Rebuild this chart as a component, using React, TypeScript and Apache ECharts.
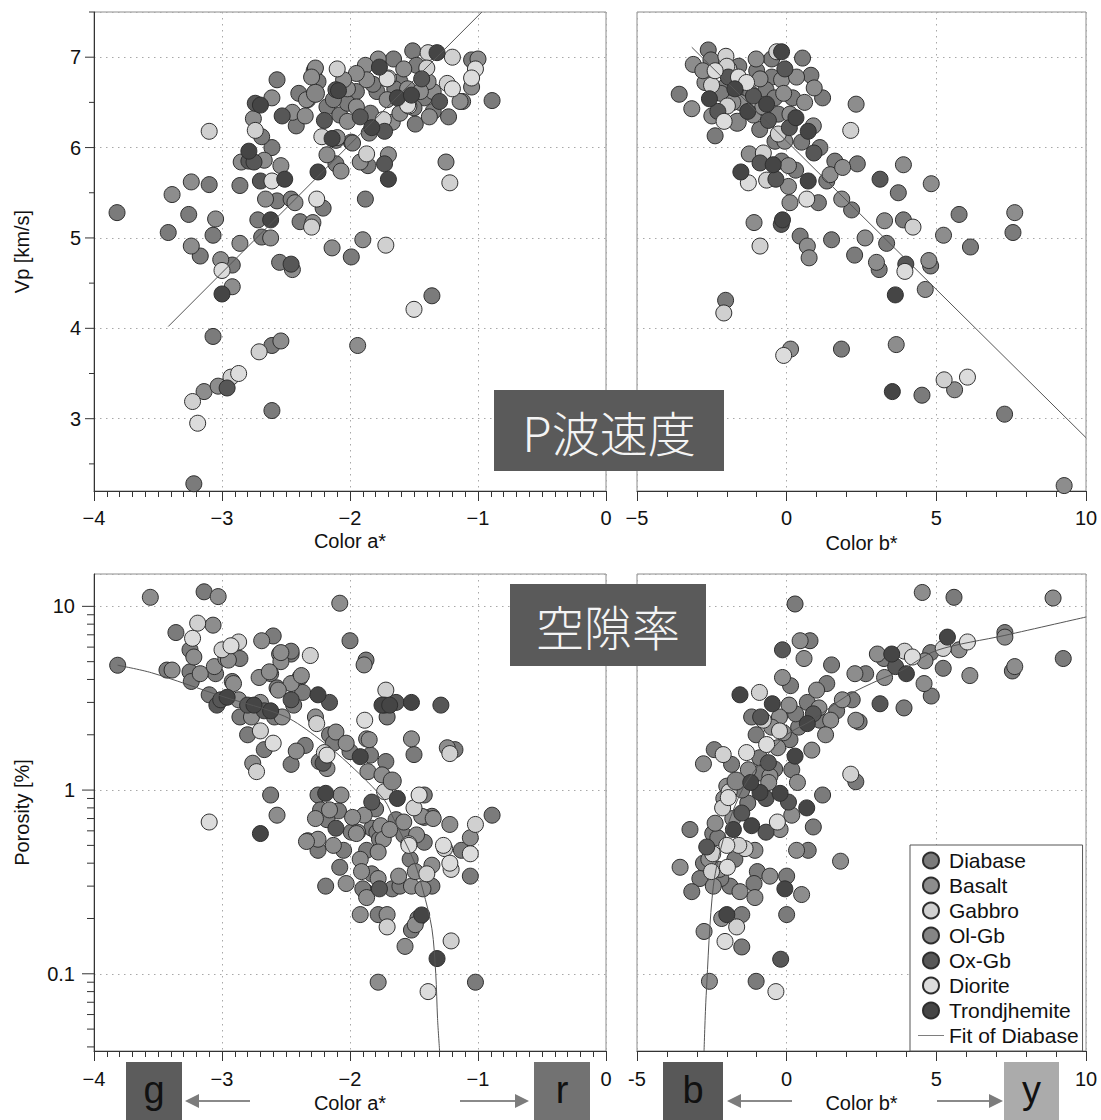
import React, { useEffect, useRef } from 'react';
import * as echarts from 'echarts';

const FONT = '"Liberation Sans", Arial, Helvetica, sans-serif';
const CJK = '"Noto Sans CJK JP", "Noto Sans CJK SC", sans-serif';

const TYPES = ['Diabase', 'Basalt', 'Gabbro', 'Ol-Gb', 'Ox-Gb', 'Diorite', 'Trondjhemite'];
const TYPE_CODES = ['Di', 'Ba', 'Ga', 'Ol', 'Ox', 'Dr', 'Tr'];
const TYPE_COLORS = ['#7b7b7b', '#8d8d8d', '#d0d0d0', '#858585', '#575757', '#dcdcdc', '#454545'];
const TYPE_SIZES = [16, 16, 16, 18, 16, 16, 16];

// Vp vs Color a*
const vpA: [number, number, string][] = [
  [-3.82,5.28,'Di'],[-3.39,5.48,'Ba'],[-3.42,5.06,'Di'],[-3.24,5.62,'Ba'],[-3.26,5.26,'Di'],[-3.24,4.91,'Ba'],
  [-3.17,4.80,'Di'],[-3.10,5.59,'Di'],[-3.05,5.21,'Ba'],[-3.07,5.03,'Di'],[-3.10,6.18,'Ga'],[-3.01,4.76,'Ba'],
  [-3.00,4.64,'Dr'],[-2.92,4.70,'Di'],[-2.92,4.46,'Ba'],[-3.00,4.38,'Tr'],[-3.07,3.91,'Di'],[-3.23,3.19,'Ga'],
  [-3.14,3.30,'Ba'],[-3.19,2.95,'Dr'],[-3.22,2.28,'Di'],[-3.03,3.36,'Ba'],[-2.96,3.34,'Ox'],[-2.93,3.46,'Ga'],
  [-2.87,3.50,'Dr'],[-2.71,3.74,'Ga'],[-2.61,3.81,'Di'],[-2.54,3.86,'Ba'],[-2.61,3.09,'Di'],[-2.86,4.94,'Ba'],
  [-2.86,5.58,'Di'],[-2.85,5.84,'Ba'],[-2.79,5.85,'Ox'],[-2.79,5.96,'Tr'],[-2.75,5.84,'Ox'],[-2.69,5.01,'Di'],
  [-2.62,5.00,'Ba'],[-2.72,5.20,'Di'],[-2.62,5.20,'Tr'],[-2.66,5.43,'Ba'],[-2.57,5.41,'Di'],[-2.70,5.63,'Ox'],
  [-2.61,5.63,'Dr'],[-2.51,5.65,'Tr'],[-2.67,5.86,'Ba'],[-2.61,6.00,'Di'],[-2.54,5.80,'Ba'],[-2.55,4.73,'Di'],
  [-2.46,4.71,'Ox'],[-2.45,4.65,'Ba'],[-2.46,5.43,'Di'],[-2.43,5.39,'Ba'],[-2.39,5.18,'Di'],[-2.29,5.17,'Ba'],
  [-2.30,5.12,'Ga'],[-2.26,5.43,'Dr'],[-2.21,5.33,'Di'],[-2.25,5.73,'Tr'],[-2.755,6.32,'Ba'],[-2.74,6.19,'Ga'],
  [-2.69,6.12,'Di'],[-2.74,6.49,'Ox'],[-2.70,6.47,'Tr'],[-2.61,6.55,'Ba'],[-2.57,6.75,'Di'],[-2.53,6.35,'Ox'],
  [-2.45,6.39,'Ba'],[-2.42,6.24,'Di'],[-2.35,6.35,'Ba'],[-2.33,6.53,'Di'],[-2.14,4.89,'Ba'],[-1.99,4.79,'Di'],
  [-1.90,4.98,'Ba'],[-1.72,4.92,'Ga'],[-1.88,5.43,'Di'],[-1.94,3.81,'Ba'],[-1.50,4.21,'Dr'],[-1.36,4.36,'Di'],
  [-1.25,5.84,'Ba'],[-1.22,5.61,'Ga'],[-1.23,6.34,'Di'],[-1.14,6.51,'Ba'],[-0.89,6.52,'Di'],[-1.05,6.67,'Ba'],
  [-1.02,6.87,'Dr'],[-1.05,6.97,'Di'],[-1.00,6.98,'Ba'],[-1.20,7.00,'Ga'],[-1.20,6.65,'Dr'],[-1.24,6.71,'Ga'],
  [-1.05,6.77,'Dr'],[-1.32,7.05,'Tr'],[-1.39,7.05,'Ga'],[-1.51,7.07,'Di'],[-1.30,6.51,'Ox'],[-1.38,6.34,'Ba'],
  [-1.49,6.26,'Di'],[-1.54,6.46,'Dr'],[-2.10,6.87,'Ga'],[-2.27,6.88,'Ba'],[-2.09,6.63,'Tr'],[-2.22,6.12,'Ga'],
  [-2.20,6.30,'Ox'],[-2.14,6.10,'Tr'],[-2.11,6.08,'Di'],[-2.18,5.92,'Ba'],[-2.11,5.82,'Di'],[-2.07,5.74,'Ba'],
  [-1.99,6.06,'Di'],[-1.92,5.84,'Ba'],[-1.87,5.93,'Ga'],[-1.86,5.80,'Di'],[-1.73,5.82,'Ox'],[-1.70,5.92,'Ba'],
  [-1.70,5.65,'Tr'],[-1.92,6.34,'Ox'],[-1.83,6.22,'Tr'],[-1.73,6.18,'Ox'],[-1.77,6.89,'Tr'],[-1.70,6.77,'Ga'],
  [-1.61,6.73,'Di'],[-1.71,6.76,'Dr'],[-1.78,6.98,'Ba'],[-1.66,6.98,'Di'],[-1.88,6.91,'Ba'],[-2.28,6.85,'Di'],
  [-2.30,6.78,'Ba'],[-2.25,6.73,'Di'],[-2.02,6.65,'Ba'],[-1.95,6.62,'Di'],[-1.87,6.75,'Ba'],[-1.79,6.62,'Di'],
  [-1.71,6.53,'Ba'],[-1.63,6.55,'Tr'],[-1.42,6.55,'Di'],[-1.35,6.62,'Ba'],[-2.18,6.45,'Di'],[-2.34,6.53,'Ba'],
  [-2.27,6.60,'Ol'],[-2.08,6.36,'Di'],[-2.02,6.29,'Ba'],[-1.84,6.38,'Di'],[-1.74,6.31,'Ga'],[-1.67,6.28,'Ba'],
  [-1.85,6.16,'Di'],[-2.10,6.11,'Ba'],[-1.98,6.05,'Di'],[-2.02,6.49,'Di'],[-1.95,6.45,'Ba'],[-2.13,6.53,'Di'],
  [-1.61,6.38,'Ba'],[-1.50,6.44,'Di'],[-1.58,6.87,'Ba'],[-1.48,6.91,'Di'],[-1.95,6.82,'Ba'],[-1.35,6.40,'Di'],
  [-1.39,6.73,'Ba'],[-1.44,6.76,'Ox'],[-1.40,6.88,'Ga'],[-1.52,6.58,'Tr'],[-1.55,6.47,'Dr'],[-1.12,6.51,'Di'],
  [-2.11,6.64,'Ox'],[-1.65,6.65,'Di'],[-1.55,6.65,'Ba'],[-1.82,6.70,'Di'],[-2.05,6.75,'Ba'],[-2.40,6.60,'Di'],
  [-1.45,6.62,'Ba'],
];

// Vp vs Color b*
const vpB: [number, number, string][] = [
  [-2.62,7.08,'Di'],[-3.12,6.92,'Ba'],[-2.53,6.97,'Di'],[-2.03,7.01,'Ga'],[-2.39,6.85,'Dr'],[-1.93,6.87,'Ga'],
  [-1.61,6.78,'Dr'],[-1.95,6.78,'Ox'],[-2.73,6.72,'Ba'],[-2.51,6.69,'Ga'],[-2.06,6.67,'Di'],[-1.73,6.65,'Tr'],
  [-1.34,6.72,'Dr'],[-1.02,6.98,'Ba'],[-1.00,6.85,'Di'],[-0.89,6.76,'Ba'],[-0.50,6.98,'Di'],[-0.33,7.06,'Ga'],
  [-0.17,7.06,'Tr'],[-0.06,6.87,'Ox'],[0.53,6.99,'Di'],[-0.17,6.75,'Ba'],[-0.50,6.78,'Di'],[0.33,6.78,'Ba'],
  [0.81,6.80,'Di'],[0.92,6.66,'Ba'],[1.20,6.55,'Di'],[2.32,6.48,'Ba'],[2.14,6.19,'Ga'],[-3.59,6.59,'Di'],
  [-3.17,6.43,'Ba'],[-2.58,6.54,'Tr'],[-2.39,6.13,'Di'],[-1.98,6.46,'Ga'],[-1.65,6.28,'Ol'],[-2.09,6.29,'Dr'],
  [-1.56,6.50,'Ba'],[-1.11,6.57,'Ox'],[-0.67,6.48,'Tr'],[-0.69,6.64,'Di'],[-1.11,6.36,'Ba'],[-0.61,6.30,'Ox'],
  [-0.28,6.37,'Di'],[0.11,6.37,'Ba'],[0.31,6.33,'Tr'],[0.09,6.22,'Ox'],[-0.28,6.15,'Ga'],[-0.39,6.07,'Di'],
  [-0.06,6.07,'Ba'],[0.50,6.06,'Di'],[0.72,6.18,'Tr'],[0.89,6.24,'Ba'],[0.91,5.94,'Ox'],[1.11,6.00,'Di'],
  [-1.25,5.93,'Ba'],[-0.78,5.94,'Ga'],[-0.89,5.83,'Ox'],[-0.45,5.81,'Tr'],[-0.17,5.85,'Di'],[0.06,5.80,'Ba'],
  [0.30,5.75,'Di'],[-1.53,5.73,'Tr'],[-1.28,5.61,'Dr'],[-0.67,5.64,'Ga'],[-0.36,5.65,'Ox'],[0.06,5.57,'Ba'],
  [0.72,5.63,'Tr'],[1.34,5.63,'Di'],[1.45,5.70,'Ba'],[1.61,5.85,'Di'],[1.87,5.78,'Ba'],[2.36,5.82,'Di'],
  [3.12,5.65,'Ox'],[3.90,5.81,'Ba'],[3.73,5.50,'Di'],[0.11,5.39,'Ba'],[0.67,5.43,'Dr'],[1.06,5.39,'Di'],
  [1.84,5.43,'Ba'],[2.17,5.31,'Di'],[-1.09,5.17,'Ba'],[-0.14,5.20,'Tr'],[-0.89,4.91,'Ga'],[0.45,5.02,'Di'],
  [0.69,4.91,'Ba'],[1.50,4.98,'Di'],[2.62,5.00,'Ba'],[3.34,4.94,'Di'],[3.27,5.19,'Ba'],[3.90,5.20,'Di'],
  [4.83,5.60,'Ba'],[5.76,5.26,'Di'],[7.62,5.28,'Ba'],[7.56,5.06,'Di'],[5.24,5.03,'Ba'],[6.14,4.90,'Di'],
  [4.22,5.12,'Ga'],[3.00,4.73,'Ba'],[3.09,4.65,'Di'],[3.98,4.71,'Ox'],[3.95,4.63,'Dr'],[4.75,4.75,'Ba'],
  [4.81,4.69,'Di'],[4.63,4.43,'Ba'],[3.63,4.37,'Tr'],[2.27,4.81,'Di'],[0.75,4.78,'Ba'],[-0.18,5.15,'Ox'],
  [-2.04,4.31,'Di'],[-2.10,4.17,'Ga'],[0.13,3.77,'Ba'],[-0.10,3.70,'Dr'],[1.83,3.77,'Di'],[3.66,3.82,'Ba'],
  [3.53,3.30,'Tr'],[4.52,3.26,'Di'],[5.26,3.43,'Ga'],[5.61,3.32,'Ba'],[6.04,3.46,'Dr'],[7.28,3.05,'Di'],
  [9.27,2.26,'Ba'],[-2.2,6.6,'Di'],[-1.8,6.5,'Ba'],[-1.4,6.55,'Di'],[-2.5,6.35,'Ba'],[-1.2,6.6,'Di'],
  [-0.8,6.45,'Ba'],[-0.4,6.55,'Di'],[-0.1,6.6,'Ba'],[-1.6,6.9,'Di'],[-2.8,6.85,'Ba'],[-2.3,6.4,'Ox'],
  [-2.0,6.9,'Ga'],[-1.3,6.4,'Tr'],[-0.9,6.2,'Di'],[0.2,6.55,'Di'],[0.6,6.5,'Ba'],
];

// Porosity vs Color a*
const poA: [number, number, string][] = [
  [-3.815,4.78,'Di'],[-3.56,11.2,'Ba'],[-3.14,12.0,'Di'],[-3.03,11.3,'Ba'],[-3.36,7.2,'Di'],[-3.19,8.1,'Ga'],
  [-3.07,7.9,'Ba'],[-3.23,6.7,'Dr'],[-3.25,5.8,'Di'],[-3.22,5.3,'Ba'],[-3.43,4.5,'Di'],[-3.39,4.5,'Ba'],
  [-3.25,4.4,'Di'],[-3.17,4.3,'Ba'],[-3.24,3.9,'Di'],[-3.06,4.7,'Ba'],[-3.05,4.3,'Di'],[-3.00,5.8,'Ga'],
  [-2.93,6.1,'Dr'],[-2.87,6.4,'Ga'],[-2.97,5.2,'Ba'],[-2.86,5.2,'Di'],[-2.91,3.8,'Ba'],[-3.10,3.3,'Di'],
  [-3.04,2.9,'Ox'],[-2.96,3.2,'Tr'],[-3.01,3.1,'Ox'],[-2.69,6.5,'Ba'],[-2.60,6.9,'Di'],[-2.55,5.5,'Ba'],
  [-2.46,5.5,'Di'],[-2.54,5.0,'Ba'],[-2.31,5.4,'Ga'],[-2.62,4.3,'Di'],[-2.71,4.1,'Ba'],[-2.39,4.1,'Di'],
  [-2.46,3.8,'Ba'],[-2.37,3.4,'Di'],[-2.56,3.5,'Ba'],[-2.00,6.5,'Di'],[-2.08,10.4,'Ba'],[-1.875,5.1,'Di'],
  [-1.89,4.8,'Ba'],[-2.25,3.3,'Tr'],[-2.16,3.0,'Ox'],[-1.72,3.5,'Ga'],[-1.75,2.9,'Tr'],[-1.64,3.0,'Ox'],
  [-1.52,3.0,'Tr'],[-1.29,2.9,'Ox'],[-1.71,2.5,'Di'],[-1.885,2.4,'Dr'],[-1.52,1.9,'Ba'],[-1.50,1.56,'Di'],
  [-1.24,1.7,'Ba'],[-1.18,1.66,'Di'],[-1.22,1.58,'Ga'],[-1.87,1.9,'Ba'],[-3.10,0.67,'Dr'],[-2.70,0.58,'Tr'],
  [-2.62,0.94,'Di'],[-2.57,0.73,'Ba'],[-0.89,0.73,'Di'],[-1.02,0.65,'Ga'],[-1.06,0.55,'Ba'],[-1.06,0.45,'Dr'],
  [-1.06,0.34,'Di'],[-1.26,0.48,'Ga'],[-1.22,0.40,'Dr'],[-1.21,0.37,'Ga'],[-1.22,0.65,'Ba'],[-1.46,0.94,'Dr'],
  [-1.42,0.94,'Di'],[-1.50,0.80,'Ga'],[-1.44,0.72,'Ba'],[-1.36,0.72,'Di'],[-1.78,0.090,'Ba'],[-1.39,0.080,'Dr'],
  [-1.02,0.090,'Di'],[-1.32,0.121,'Tr'],[-1.21,0.151,'Ga'],[-1.57,0.141,'Ba'],[-1.52,0.173,'Di'],[-1.49,0.185,'Ba'],
  [-1.44,0.209,'Tr'],[-1.47,0.20,'Di'],[-1.92,0.21,'Ba'],[-1.78,0.21,'Di'],[-1.71,0.21,'Ba'],[-1.71,0.18,'Ga'],
  [-1.88,0.28,'Di'],[-1.87,0.26,'Ba'],[-2.19,0.30,'Di'],[-2.03,0.31,'Ba'],[-1.77,0.29,'Ox'],[-2.95,5.1,'Ba'],
  [-2.92,3.9,'Di'],[-2.87,3.1,'Ba'],[-2.80,2.9,'Ox'],[-2.75,2.9,'Tr'],[-2.86,2.5,'Di'],[-2.77,2.5,'Ba'],
  [-2.80,2.0,'Di'],[-2.70,2.1,'Ga'],[-2.67,2.7,'Ox'],[-2.62,2.7,'Tr'],[-2.70,3.0,'Ba'],[-2.59,2.5,'Di'],
  [-2.53,2.5,'Ba'],[-2.57,3.6,'Di'],[-2.38,4.2,'Ba'],[-2.46,3.1,'Ox'],[-2.44,2.9,'Di'],[-2.63,4.4,'Ba'],
  [-2.46,5.7,'Di'],[-2.54,5.6,'Ba'],[-2.60,1.8,'Dr'],[-2.67,1.66,'Di'],[-2.42,1.63,'Ba'],[-2.35,1.75,'Di'],
  [-2.76,1.4,'Ba'],[-2.73,1.26,'Ga'],[-2.46,1.38,'Di'],[-2.27,2.5,'Ba'],[-2.26,2.3,'Ga'],[-2.16,2.0,'Di'],
  [-2.11,2.07,'Ba'],[-2.13,1.8,'Di'],[-2.03,1.8,'Ba'],[-2.20,1.6,'Ga'],[-2.18,1.55,'Dr'],[-2.24,1.43,'Di'],
  [-2.21,1.4,'Ox'],[-2.18,1.31,'Ba'],[-2.00,1.62,'Di'],[-1.92,1.52,'Tr'],[-1.85,1.88,'Ba'],[-1.73,2.9,'Ox'],
  [-1.69,2.9,'Tr'],[-1.84,1.55,'Di'],[-1.86,1.26,'Ba'],[-1.72,1.43,'Di'],[-1.75,1.21,'Ba'],[-1.67,1.12,'Ol'],
  [-1.73,0.98,'Ga'],[-1.63,0.90,'Tr'],[-1.83,0.86,'Ox'],[-1.80,0.79,'Di'],[-1.89,0.73,'Ba'],[-2.25,0.94,'Di'],
  [-2.19,0.96,'Tr'],[-2.07,0.94,'Ba'],[-2.23,0.78,'Di'],[-2.16,0.78,'Ba'],[-2.09,0.77,'Di'],[-2.27,0.70,'Ba'],
  [-2.18,0.69,'Di'],[-2.11,0.62,'Ox'],[-1.98,0.71,'Ba'],[-1.99,0.59,'Di'],[-1.94,0.59,'Ba'],[-2.33,0.53,'Di'],
  [-2.25,0.54,'Ba'],[-1.83,0.62,'Di'],[-1.76,0.64,'Ba'],[-1.79,0.59,'Di'],[-1.74,0.54,'Ba'],[-1.64,0.69,'Di'],
  [-1.58,0.67,'Ba'],[-1.42,0.71,'Di'],[-1.48,0.57,'Ba'],[-1.27,0.50,'Dr'],[-1.54,0.51,'Ga'],[-2.34,0.525,'Ba'],
  [-2.25,0.47,'Di'],[-2.13,0.50,'Ba'],[-2.05,0.47,'Di'],[-1.95,0.58,'Ba'],[-1.87,0.47,'Di'],[-1.78,0.46,'Ba'],
  [-1.77,0.54,'Di'],[-1.92,0.42,'Ba'],[-2.08,0.38,'Di'],[-1.91,0.36,'Ba'],[-1.83,0.35,'Di'],[-1.78,0.33,'Ba'],
  [-1.67,0.29,'Di'],[-1.62,0.34,'Ba'],[-1.61,0.30,'Di'],[-1.52,0.30,'Ba'],[-1.53,0.42,'Di'],[-1.49,0.36,'Ba'],
  [-1.54,0.50,'Dr'],[-1.42,0.52,'Di'],[-1.40,0.35,'Ga'],[-1.36,0.39,'Ba'],[-1.36,0.30,'Di'],[-1.43,0.29,'Ba'],
  [-1.58,0.57,'Di'],[-1.69,0.61,'Ba'],[-1.90,0.29,'Di'],[-1.13,0.47,'Di'],[-1.35,0.70,'Ba'],
];

// Porosity vs Color b*
const poB: [number, number, string][] = [
  [0.28,10.3,'Di'],[4.53,11.9,'Ba'],[5.59,11.2,'Di'],[8.90,11.1,'Ba'],[9.24,5.2,'Di'],[0.45,6.5,'Ba'],
  [0.78,6.5,'Di'],[-0.14,5.8,'Ox'],[0.58,5.2,'Ba'],[1.50,4.8,'Di'],[-0.14,4.1,'Ba'],[0.13,3.7,'Di'],
  [1.00,3.5,'Ba'],[1.34,3.8,'Di'],[-0.48,2.95,'Tr'],[0.08,2.9,'Ba'],[0.69,3.0,'Di'],[1.08,2.8,'Ba'],
  [0.89,2.6,'Ox'],[0.69,2.3,'Tr'],[1.11,2.4,'Di'],[1.47,2.4,'Ba'],[1.67,2.7,'Di'],[1.86,3.1,'Ba'],
  [2.19,3.1,'Di'],[2.28,4.3,'Ba'],[2.64,4.3,'Di'],[2.31,2.4,'Ba'],[2.42,2.35,'Di'],[3.12,2.95,'Ox'],
  [3.03,5.5,'Ba'],[3.25,5.2,'Di'],[3.51,5.5,'Tr'],[3.94,5.7,'Ga'],[4.20,5.3,'Dr'],[3.64,4.7,'Ox'],
  [4.00,4.3,'Tr'],[3.27,4.1,'Ba'],[3.92,2.8,'Di'],[4.59,3.8,'Ba'],[4.83,3.25,'Di'],[4.62,5.05,'Ba'],
  [4.81,5.6,'Di'],[5.23,5.9,'Ga'],[5.37,6.8,'Tr'],[5.76,5.8,'Ba'],[6.04,6.4,'Dr'],[5.23,4.6,'Di'],
  [6.12,4.2,'Ba'],[7.29,7.2,'Di'],[7.29,6.8,'Ba'],[7.54,4.45,'Di'],[7.62,4.7,'Ba'],[2.14,1.22,'Ga'],
  [2.31,1.11,'Di'],[-1.56,3.3,'Tr'],[-0.91,3.4,'Ga'],[-1.17,2.5,'Di'],[-0.87,2.5,'Ox'],[-0.78,2.4,'Ga'],
  [-0.24,2.5,'Ba'],[-1.02,2.0,'Di'],[-0.67,1.77,'Dr'],[-0.24,2.1,'Ga'],[-0.11,2.05,'Ba'],[0.11,1.88,'Di'],
  [0.28,1.53,'Tr'],[0.84,1.65,'Ba'],[0.17,1.29,'Di'],[0.36,1.10,'Ba'],[-2.42,1.66,'Di'],[-2.12,1.56,'Ga'],
  [-2.78,1.39,'Ba'],[-1.84,1.38,'Di'],[-1.34,1.60,'Dr'],[-1.28,1.29,'Ba'],[-0.61,1.41,'Ox'],[-0.89,1.24,'Di'],
  [-0.56,1.19,'Ba'],[-1.69,1.12,'Ol'],[-1.92,0.98,'Ga'],[-1.95,0.91,'Dr'],[-0.89,0.97,'Tr'],[-0.69,0.90,'Ox'],
  [-0.22,0.96,'Tr'],[0.06,0.86,'Ox'],[0.67,0.80,'Tr'],[1.20,0.94,'Di'],[0.17,0.73,'Ba'],[0.89,0.63,'Di'],
  [-2.14,0.80,'Ga'],[-1.50,0.75,'Ox'],[-1.17,0.64,'Tr'],[-0.69,0.59,'Ox'],[-0.22,0.61,'Ba'],[-0.31,0.67,'Dr'],
  [-1.78,0.61,'Tr'],[-2.47,0.58,'Di'],[-2.39,0.66,'Ba'],[-3.23,0.61,'Di'],[-2.67,0.49,'Ox'],[-2.47,0.45,'Ga'],
  [-2.00,0.50,'Dr'],[-1.39,0.48,'Ga'],[-1.06,0.47,'Ba'],[-1.73,0.42,'Di'],[-2.25,0.37,'Ba'],[-1.98,0.38,'Dr'],
  [-2.51,0.36,'Ga'],[-2.78,0.40,'Di'],[-3.56,0.38,'Ba'],[-0.98,0.36,'Di'],[-0.56,0.34,'Ba'],[0.00,0.34,'Di'],
  [0.33,0.47,'Ba'],[0.72,0.47,'Di'],[1.80,0.41,'Ba'],[-2.90,0.33,'Di'],[-2.45,0.30,'Ba'],[-1.89,0.30,'Di'],
  [-1.56,0.28,'Ba'],[-1.09,0.31,'Di'],[-1.06,0.26,'Ba'],[-3.17,0.28,'Di'],[-0.06,0.29,'Tr'],[0.50,0.27,'Ba'],
  [0.00,0.21,'Di'],[-2.00,0.21,'Tr'],[-2.17,0.20,'Ba'],[-1.50,0.21,'Di'],[-1.67,0.18,'Ga'],[-2.76,0.17,'Ba'],
  [-2.06,0.15,'Dr'],[-1.50,0.14,'Di'],[-0.20,0.12,'Ox'],[-2.58,0.091,'Ba'],[-1.02,0.091,'Di'],[-0.36,0.080,'Dr'],
  [-2.3,0.55,'Di'],[-1.8,0.7,'Ba'],[-1.3,0.85,'Di'],[-2.0,1.05,'Ba'],[-1.5,1.0,'Di'],[-0.6,1.1,'Ba'],
  [-0.9,1.5,'Di'],[-0.3,1.7,'Ba'],[0.4,2.2,'Di'],[-2.6,0.42,'Ba'],[-2.2,0.33,'Di'],[-1.6,0.5,'Ga'],
  [-2.1,0.9,'Ba'],[-1.2,1.1,'Tr'],[-0.4,1.3,'Di'],[1.3,2.0,'Ba'],[0.3,2.6,'Di'],[-0.5,2.2,'Ba'],
];

// Fit of Diabase curves
const fitVpAX = [-3.42, -0.97];
const fitVpAY = [4.02, 7.5];
const fitVpBX = [-3.17, 10];
const fitVpBY = [7.11, 2.79];
const fitPoAX = [-3.815, -3.55, -3.0, -2.51, -2.25, -2.0, -1.73, -1.66, -1.5, -1.43, -1.36, -1.33, -1.316, -1.3];
const fitPoAY = [4.78, 4.35, 3.24, 2.52, 1.92, 1.37, 0.88, 0.70, 0.41, 0.285, 0.176, 0.10, 0.057, 0.038];
const fitPoBX = [-2.76, -2.69, -2.45, -2.06, -1.45, -0.8, 0, 0.85, 2.0, 3.12, 3.81, 5.0, 7.29, 10];
const fitPoBY = [0.038, 0.076, 0.30, 0.58, 1.03, 1.45, 2.0, 2.4, 3.25, 4.0, 4.45, 5.75, 6.95, 8.75];

// Axis ranges and ticks
const vpRange = [2.2, 7.5];
const poRange = [0.038, 15];
const vpMajorTicks = [3, 4, 5, 6, 7];
const vpMinorTicks = [2.5, 3.5, 4.5, 5.5, 6.5, 7.5];
const poMajorTicks = [0.1, 1, 10];
const poMinorTicks = [0.04, 0.05, 0.06, 0.07, 0.08, 0.09, 0.2, 0.3, 0.4, 0.5, 0.6, 0.7, 0.8, 0.9, 2, 3, 4, 5, 6, 7, 8, 9];

const fmtMinus = (v: number) => (v < 0 ? '\u2212' + Math.abs(v) : String(v));
const fmtHyphen = (v: number) => String(v);

function scatterSeries(data: [number, number, string][], gi: number) {
  return TYPES.map((name, i) => ({
    type: 'scatter',
    name,
    xAxisIndex: gi,
    yAxisIndex: gi,
    data: data.filter((d) => d[2] === TYPE_CODES[i]).map((d) => [d[0], d[1]]),
    symbol: 'circle',
    symbolSize: TYPE_SIZES[i],
    itemStyle: { color: TYPE_COLORS[i], borderColor: '#2e2e2e', borderWidth: 1, opacity: 1 },
    z: 3,
    silent: true,
  }));
}

function fitSeries(xs: number[], ys: number[], gi: number, smooth: number | boolean) {
  return {
    type: 'line',
    name: 'Fit of Diabase',
    xAxisIndex: gi,
    yAxisIndex: gi,
    data: xs.map((x, i) => [x, ys[i]]),
    symbol: 'none',
    showSymbol: false,
    smooth,
    lineStyle: { color: '#555', width: 1 },
    itemStyle: { color: '#6a6a6a' },
    z: 6,
    silent: true,
  };
}

function tickSeries(values: number[], gi: number, xAt: number, len: number) {
  return {
    type: 'custom',
    name: 'ticks',
    xAxisIndex: gi,
    yAxisIndex: gi,
    clip: false,
    silent: true,
    z: 7,
    data: values.map((v) => [xAt, v]),
    renderItem: (_p: any, api: any) => {
      const pt = api.coord([api.value(0), api.value(1)]);
      return {
        type: 'line',
        shape: { x1: pt[0] - len, y1: pt[1], x2: pt[0], y2: pt[1] },
        style: { stroke: '#333', lineWidth: 1 },
      };
    },
  };
}

const splitLine = { show: true, lineStyle: { color: '#a8a8a8', type: [1.5, 4.5], width: 1 } };
const labelStyle = { fontSize: 20, color: '#111', fontFamily: FONT };
const nameStyle = { fontSize: 20, color: '#111', fontFamily: FONT };

function xAxis(gi: number, min: number, max: number, interval: number, minorSplit: number, name: string, nameGap: number, margin: number, fmt: (v: number) => string) {
  return {
    type: 'value',
    gridIndex: gi,
    min,
    max,
    interval,
    name,
    nameLocation: 'middle',
    nameGap,
    nameTextStyle: nameStyle,
    axisLine: { show: true, onZero: false, lineStyle: { color: '#333', width: 1 } },
    axisTick: { show: true, inside: false, length: 10, lineStyle: { color: '#333' } },
    minorTick: { show: true, splitNumber: minorSplit, length: 6, lineStyle: { color: '#333' } },
    axisLabel: { ...labelStyle, margin, formatter: fmt, showMinLabel: true, showMaxLabel: true },
    splitLine,
  };
}

function yAxis(gi: number, log: boolean, showLabels: boolean, name: string) {
  const range = log ? poRange : vpRange;
  return {
    type: log ? 'log' : 'value',
    logBase: 10,
    gridIndex: gi,
    min: range[0],
    max: range[1],
    name: showLabels ? name : '',
    nameLocation: 'middle',
    nameGap: 62,
    nameTextStyle: nameStyle,
    axisLine: { show: showLabels, onZero: false, lineStyle: { color: '#333', width: 1 } },
    axisTick: { show: false },
    axisLabel: {
      show: showLabels,
      ...labelStyle,
      margin: log ? 19 : 13,
      showMinLabel: false,
      showMaxLabel: false,
      formatter: (v: number) => (log ? String(+v.toPrecision(3)) : String(v)),
    },
    splitLine,
  };
}

function buildOption() {
  const grids = [
    { left: 94, top: 12, width: 512, height: 479 },
    { left: 637, top: 12, width: 449, height: 479 },
    { left: 94, top: 574, width: 512, height: 477 },
    { left: 637, top: 574, width: 449, height: 477 },
  ].map((g) => ({ ...g, show: true, borderColor: '#8c8c8c', borderWidth: 1, backgroundColor: 'transparent' }));

  const series: any[] = [
    ...scatterSeries(vpA, 0),
    ...scatterSeries(vpB, 1),
    ...scatterSeries(poA, 2),
    ...scatterSeries(poB, 3),
    fitSeries(fitVpAX, fitVpAY, 0, false),
    fitSeries(fitVpBX, fitVpBY, 1, false),
    fitSeries(fitPoAX, fitPoAY, 2, 0.3),
    fitSeries(fitPoBX, fitPoBY, 3, 0.3),
    tickSeries(vpMajorTicks, 0, -4, 9),
    tickSeries(vpMinorTicks, 0, -4, 5),
    tickSeries(poMajorTicks, 2, -4, 12),
    tickSeries(poMinorTicks, 2, -4, 7),
  ];

  const arrowColor = '#7c7c7c';
  const arrow = (x1: number, x2: number, tip: number, dir: number) => [
    { type: 'line', shape: { x1, y1: 1101, x2, y2: 1101 }, style: { stroke: '#8a8a8a', lineWidth: 2 }, z: 100 },
    {
      type: 'polygon',
      shape: { points: [[tip, 1101], [tip - dir * 14, 1094], [tip - dir * 14, 1108]] },
      style: { fill: arrowColor },
      z: 100,
    },
  ];
  const letterBox = (x: number, w: number, fill: string, letter: string) => [
    { type: 'rect', shape: { x, y: 1062, width: w, height: 58 }, style: { fill }, z: 100 },
    {
      type: 'text',
      x: x + w / 2,
      y: 1090,
      style: {
        text: letter, fill: '#111', fontSize: 38, fontFamily: FONT,
        align: 'center', verticalAlign: 'middle', textAlign: 'center', textVerticalAlign: 'middle',
      },
      z: 101,
    },
  ];
  const titleBox = (x: number, y: number, w: number, h: number, text: string) => [
    { type: 'rect', shape: { x, y, width: w, height: h }, style: { fill: '#5a5a5a' }, z: 100 },
    {
      type: 'text',
      x: x + w / 2,
      y: y + h / 2,
      style: {
        text, fill: '#f4f4f4', fontSize: 48, fontFamily: CJK, fontWeight: 300,
        align: 'center', verticalAlign: 'middle', textAlign: 'center', textVerticalAlign: 'middle',
      },
      z: 101,
    },
  ];

  const graphic = [
    ...titleBox(494, 390, 230, 81, 'P波速度'),
    ...titleBox(510, 584, 196, 82, '空隙率'),
    ...letterBox(126, 56, '#5c5c5c', 'g'),
    ...letterBox(534, 56, '#727272', 'r'),
    ...letterBox(663, 60, '#585858', 'b'),
    ...letterBox(1004, 55, '#ababab', 'y'),
    ...arrow(250, 195, 185, -1),
    ...arrow(460, 518, 529, 1),
    ...arrow(792, 738, 727, -1),
    ...arrow(937, 992, 1003, 1),
  ];

  return {
    animation: false,
    backgroundColor: '#ffffff',
    textStyle: { fontFamily: FONT },
    grid: grids,
    xAxis: [
      xAxis(0, -4, 0, 1, 10, 'Color a*', 40, 17, fmtMinus),
      xAxis(1, -5, 10, 5, 5, 'Color b*', 42, 17, fmtMinus),
      xAxis(2, -4, 0, 1, 10, 'Color a*', 42, 18, fmtMinus),
      xAxis(3, -5, 10, 5, 5, 'Color b*', 42, 18, fmtHyphen),
    ],
    yAxis: [
      yAxis(0, false, true, 'Vp [km/s]'),
      yAxis(1, false, false, ''),
      yAxis(2, true, true, 'Porosity [%]'),
      yAxis(3, true, false, ''),
    ],
    legend: {
      data: [
        ...TYPES,
        { name: 'Fit of Diabase', icon: 'path://M0,0 L30,0 L30,1 L0,1 Z', itemStyle: { color: '#6a6a6a' } },
      ],
      orient: 'vertical',
      left: 910,
      top: 845,
      itemWidth: 26,
      itemHeight: 16,
      itemGap: 4,
      padding: [5, 4, 5, 8],
      backgroundColor: '#ffffff',
      borderColor: '#555',
      borderWidth: 1,
      borderRadius: 0,
      selectedMode: false,
      textStyle: { fontSize: 21, color: '#111', fontFamily: FONT },
      z: 50,
    },
    graphic,
    series,
  };
}

export default function App() {
  const ref = useRef<HTMLDivElement | null>(null);
  useEffect(() => {
    if (!ref.current) return;
    const chart = echarts.init(ref.current, null as any, { renderer: 'svg' });
    chart.setOption(buildOption() as any);
    return () => chart.dispose();
  }, []);
  return (
    <div
      ref={ref}
      style={{ position: 'absolute', left: 0, top: 0, width: 1101, height: 1120, background: '#fff' }}
    />
  );
}
